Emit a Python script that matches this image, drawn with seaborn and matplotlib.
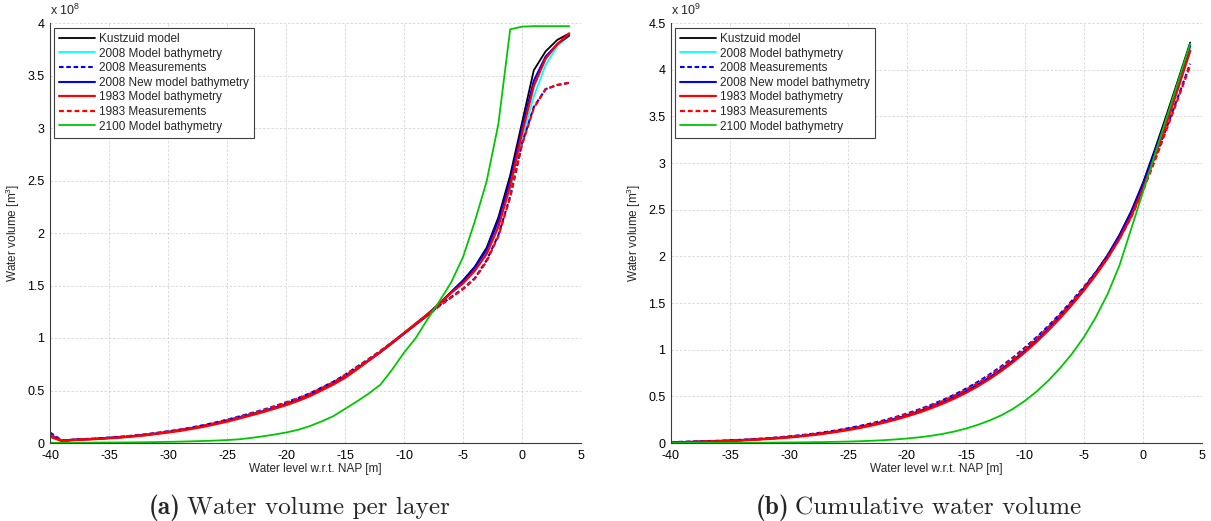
import numpy as np
import pandas as pd
import matplotlib
matplotlib.use("Agg")
import matplotlib.pyplot as plt
import seaborn as sns
from matplotlib.ticker import FuncFormatter, MultipleLocator

# ---------------- data ----------------
levels = list(range(-40, 5))  # water level w.r.t. NAP [m]

# (a) water volume per layer, units of 1e8 m3
kust_layer = [0.07, 0.02, 0.03, 0.035, 0.04, 0.048, 0.055, 0.065, 0.075, 0.09,
              0.105, 0.12, 0.14, 0.16, 0.185, 0.21, 0.24, 0.27, 0.30, 0.335,
              0.37, 0.41, 0.455, 0.51, 0.565, 0.63, 0.71, 0.79, 0.87, 0.96,
              1.05, 1.14, 1.23, 1.33, 1.44, 1.55, 1.68, 1.86, 2.15, 2.55,
              3.05, 3.55, 3.73, 3.84, 3.90]
m2008_layer = [0.07, 0.02, 0.03, 0.035, 0.04, 0.048, 0.055, 0.065, 0.076, 0.09,
               0.106, 0.121, 0.141, 0.162, 0.186, 0.212, 0.242, 0.272, 0.302, 0.337,
               0.372, 0.412, 0.457, 0.512, 0.567, 0.632, 0.71, 0.79, 0.868, 0.955,
               1.045, 1.135, 1.225, 1.325, 1.43, 1.53, 1.65, 1.82, 2.08, 2.42,
               2.90, 3.30, 3.60, 3.78, 3.88]
meas2008_layer = [0.10, 0.025, 0.033, 0.038, 0.044, 0.052, 0.06, 0.07, 0.082, 0.096,
                  0.112, 0.128, 0.148, 0.17, 0.195, 0.222, 0.252, 0.283, 0.314, 0.35,
                  0.387, 0.427, 0.472, 0.527, 0.583, 0.65, 0.725, 0.80, 0.877, 0.96,
                  1.045, 1.13, 1.215, 1.31, 1.39, 1.47, 1.57, 1.74, 1.98, 2.35,
                  2.85, 3.20, 3.37, 3.41, 3.43]
new2008_layer = [0.08, 0.02, 0.03, 0.035, 0.04, 0.048, 0.055, 0.065, 0.076, 0.09,
                 0.105, 0.12, 0.14, 0.16, 0.185, 0.21, 0.24, 0.27, 0.30, 0.335,
                 0.37, 0.41, 0.455, 0.508, 0.563, 0.628, 0.705, 0.785, 0.865, 0.95,
                 1.04, 1.13, 1.225, 1.325, 1.435, 1.54, 1.67, 1.84, 2.12, 2.50,
                 3.00, 3.45, 3.68, 3.80, 3.88]
m1983_layer = [0.06, 0.018, 0.028, 0.033, 0.038, 0.045, 0.052, 0.062, 0.072, 0.086,
               0.10, 0.115, 0.134, 0.154, 0.178, 0.203, 0.232, 0.262, 0.292, 0.326,
               0.36, 0.40, 0.445, 0.50, 0.556, 0.62, 0.70, 0.783, 0.865, 0.955,
               1.045, 1.135, 1.225, 1.325, 1.43, 1.52, 1.64, 1.80, 2.06, 2.45,
               2.95, 3.40, 3.66, 3.80, 3.90]
meas1983_layer = [0.08, 0.022, 0.031, 0.036, 0.042, 0.05, 0.058, 0.068, 0.079, 0.093,
                  0.108, 0.124, 0.144, 0.165, 0.19, 0.217, 0.247, 0.278, 0.309, 0.345,
                  0.382, 0.422, 0.467, 0.522, 0.578, 0.645, 0.72, 0.797, 0.875, 0.958,
                  1.042, 1.128, 1.213, 1.305, 1.385, 1.465, 1.565, 1.73, 1.97, 2.34,
                  2.84, 3.19, 3.37, 3.41, 3.43]
m2100_layer = [0.002, 0.002, 0.003, 0.003, 0.004, 0.004, 0.005, 0.006, 0.007, 0.009,
               0.011, 0.013, 0.016, 0.019, 0.023, 0.028, 0.035, 0.048, 0.063, 0.08,
               0.10, 0.125, 0.16, 0.205, 0.255, 0.325, 0.395, 0.47, 0.555, 0.70,
               0.86, 1.0, 1.18, 1.35, 1.53, 1.77, 2.11, 2.49, 3.04, 3.94,
               3.965, 3.97, 3.97, 3.97, 3.97]

# (b) cumulative water volume, units of 1e9 m3
kust_cum = [0.007, 0.009, 0.012, 0.016, 0.020, 0.024, 0.030, 0.036, 0.044, 0.053,
            0.063, 0.075, 0.089, 0.105, 0.124, 0.145, 0.169, 0.196, 0.226, 0.259,
            0.296, 0.337, 0.383, 0.434, 0.490, 0.553, 0.624, 0.703, 0.790, 0.886,
            0.991, 1.105, 1.228, 1.361, 1.505, 1.660, 1.828, 2.014, 2.229, 2.484,
            2.789, 3.144, 3.517, 3.901, 4.291]
m2008_cum = [0.007, 0.009, 0.012, 0.016, 0.020, 0.024, 0.030, 0.036, 0.044, 0.053,
             0.063, 0.075, 0.089, 0.105, 0.124, 0.146, 0.170, 0.197, 0.228, 0.261,
             0.298, 0.339, 0.385, 0.436, 0.493, 0.556, 0.627, 0.706, 0.793, 0.888,
             0.992, 1.106, 1.228, 1.361, 1.504, 1.658, 1.823, 2.005, 2.213, 2.455,
             2.745, 3.075, 3.435, 3.813, 4.201]
meas2008_cum = [0.010, 0.013, 0.016, 0.020, 0.024, 0.029, 0.035, 0.042, 0.050, 0.060,
                0.071, 0.084, 0.099, 0.116, 0.135, 0.158, 0.183, 0.211, 0.242, 0.277,
                0.316, 0.359, 0.406, 0.459, 0.517, 0.582, 0.655, 0.735, 0.822, 0.918,
                1.023, 1.136, 1.257, 1.388, 1.527, 1.674, 1.831, 2.005, 2.203, 2.438,
                2.723, 3.043, 3.380, 3.721, 4.064]
new2008_cum = [0.008, 0.010, 0.013, 0.017, 0.021, 0.025, 0.031, 0.037, 0.045, 0.054,
               0.064, 0.076, 0.090, 0.106, 0.125, 0.146, 0.170, 0.197, 0.227, 0.260,
               0.297, 0.338, 0.384, 0.435, 0.491, 0.554, 0.624, 0.703, 0.789, 0.884,
               0.988, 1.101, 1.224, 1.356, 1.500, 1.659, 1.826, 2.010, 2.222, 2.472,
               2.772, 3.117, 3.485, 3.865, 4.253]
m1983_cum = [0.006, 0.008, 0.011, 0.014, 0.018, 0.022, 0.027, 0.034, 0.041, 0.049,
             0.059, 0.071, 0.084, 0.100, 0.118, 0.138, 0.161, 0.187, 0.216, 0.249,
             0.285, 0.325, 0.370, 0.420, 0.475, 0.537, 0.607, 0.685, 0.772, 0.867,
             0.972, 1.085, 1.208, 1.340, 1.483, 1.635, 1.799, 1.979, 2.185, 2.430,
             2.725, 3.065, 3.431, 3.811, 4.201]
meas1983_cum = [0.008, 0.010, 0.013, 0.017, 0.021, 0.026, 0.032, 0.039, 0.047, 0.056,
                0.067, 0.079, 0.094, 0.110, 0.129, 0.151, 0.175, 0.203, 0.234, 0.269,
                0.307, 0.349, 0.396, 0.448, 0.506, 0.570, 0.642, 0.722, 0.809, 0.905,
                1.009, 1.122, 1.244, 1.374, 1.513, 1.659, 1.816, 1.989, 2.186, 2.420,
                2.704, 3.023, 3.360, 3.701, 4.044]
m2100_cum = [0.0002, 0.0004, 0.0007, 0.001, 0.0014, 0.0018, 0.0023, 0.0029, 0.0036, 0.0045,
             0.0056, 0.0069, 0.0085, 0.0104, 0.0127, 0.0155, 0.019, 0.0238, 0.0301, 0.0381,
             0.0481, 0.0606, 0.0766, 0.0971, 0.1226, 0.1551, 0.1946, 0.2416, 0.2971, 0.3671,
             0.4531, 0.5531, 0.6711, 0.8061, 0.9591, 1.1361, 1.3471, 1.5961, 1.9001, 2.2941,
             2.6906, 3.0876, 3.4846, 3.8816, 4.2786]

series_names = ["Kustzuid model", "2008 Model bathymetry", "2008 Measurements",
                "2008 New model bathymetry", "1983 Model bathymetry",
                "1983 Measurements", "2100 Model bathymetry"]
layer_data = [kust_layer, m2008_layer, meas2008_layer, new2008_layer,
              m1983_layer, meas1983_layer, m2100_layer]
cum_data = [kust_cum, m2008_cum, meas2008_cum, new2008_cum,
            m1983_cum, meas1983_cum, m2100_cum]

# ---------------- styles ----------------
colors = ["#000000", "#00FFFF", "#0000FF", "#0000FF", "#FF0000", "#FF0000", "#00C800"]
dash = (0, (2.2, 1.3))
styles = ["-", "-", dash, "-", "-", dash, "-"]
widths = [1.3, 1.3, 1.5, 1.5, 1.6, 1.6, 1.3]

sns.set_theme(style="white")
plt.rcParams["font.family"] = ["Liberation Sans", "DejaVu Sans"]
plt.rcParams["mathtext.fontset"] = "custom"
plt.rcParams["mathtext.rm"] = "Liberation Sans"
plt.rcParams["mathtext.it"] = "Liberation Sans:italic"
plt.rcParams["mathtext.bf"] = "Liberation Sans:bold"

W, H = 1211, 521
fig = plt.figure(figsize=(W / 100, H / 100), dpi=100)
fig.patch.set_facecolor("white")
ax1 = fig.add_axes([50 / W, 78 / H, 531 / W, 420 / H])
ax2 = fig.add_axes([671 / W, 78 / H, 531 / W, 420 / H])

fmt = FuncFormatter(lambda v, p: "%g" % round(v, 6))
spine_col = "#3c3c3c"


def draw(ax, data, ymax, expo):
    for name, vals, c, ls, lw in zip(series_names, data, colors, styles, widths):
        df = pd.DataFrame({"level": levels, "volume": vals})
        sns.lineplot(data=df, x="level", y="volume", ax=ax, color=c,
                     linestyle=ls, linewidth=lw, label=name,
                     estimator=None, sort=False)
    ax.set_xlim(-40, 5)
    ax.set_ylim(0, ymax)
    ax.xaxis.set_major_locator(MultipleLocator(5))
    ax.yaxis.set_major_locator(MultipleLocator(0.5))
    ax.xaxis.set_major_formatter(fmt)
    ax.yaxis.set_major_formatter(fmt)
    ax.grid(True, color="#d6d6d6", linestyle=(0, (3, 2)), linewidth=0.6)
    ax.set_axisbelow(True)
    for s in ["top", "right"]:
        ax.spines[s].set_visible(False)
    for s in ["left", "bottom"]:
        ax.spines[s].set_color(spine_col)
        ax.spines[s].set_linewidth(0.8)
    ax.tick_params(direction="in", length=3, width=0.7, color=spine_col,
                   labelsize=9, labelcolor="black")
    ax.tick_params(axis="x", pad=5)
    ax.tick_params(axis="y", pad=4)
    ax.set_xlabel("Water level w.r.t. NAP [m]", fontsize=8.5)
    ax.set_ylabel("Water volume [m$^3$]", fontsize=8.5)
    ax.xaxis.set_label_coords(0.5, -0.047)
    ax.yaxis.set_label_coords(-0.053, 0.5)
    ax.text(0.0, 1.012, r"x 10$^{%d}$" % expo, transform=ax.transAxes,
            fontsize=9, ha="left", va="bottom")
    leg = ax.legend(loc="upper left", bbox_to_anchor=(0.008, 0.988),
                    borderaxespad=0, fontsize=8.5, frameon=True, fancybox=False,
                    framealpha=1, edgecolor="#404040", handlelength=3.0,
                    handletextpad=0.35, labelspacing=0.22, borderpad=0.42)
    leg.get_frame().set_linewidth(0.8)


draw(ax1, layer_data, 4.0, 8)
draw(ax2, cum_data, 4.5, 9)

# captions
cap_y = 1 - 508 / H
cap_fs = 18.2
fig.text(181 / W, cap_y, "(a)", fontfamily="cmb10", fontsize=cap_fs, ha="right", va="center")
fig.text(187 / W, cap_y, "Water volume per layer", fontfamily="cmr10", fontsize=cap_fs,
         ha="left", va="center")
fig.text(789 / W, cap_y, "(b)", fontfamily="cmb10", fontsize=cap_fs, ha="right", va="center")
fig.text(795 / W, cap_y, "Cumulative water volume", fontfamily="cmr10", fontsize=cap_fs,
         ha="left", va="center")

fig.savefig("out.png", dpi=100, facecolor="white")
